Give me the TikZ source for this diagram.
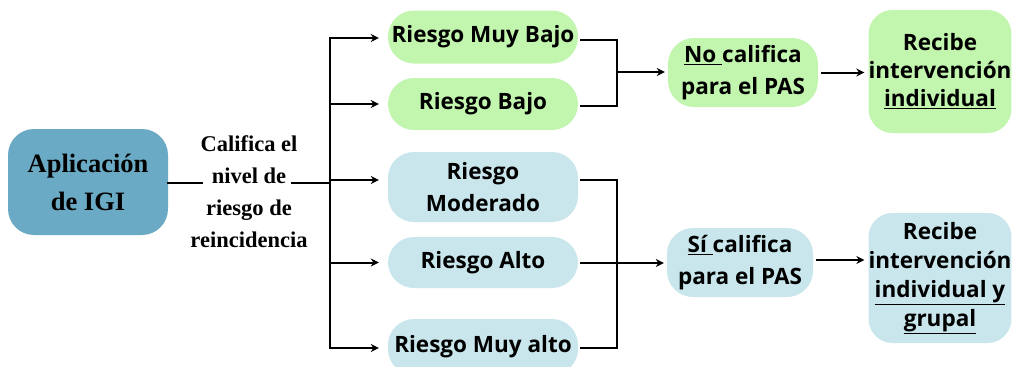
\documentclass[tikz,border=0pt]{standalone}
\usepackage{fontspec}
\setmainfont{Liberation Serif}
\setsansfont{Open Sans}
\usetikzlibrary{arrows.meta}
\definecolor{gfill}{HTML}{C2F5AE}
\definecolor{bfill}{HTML}{C8E6EB}
\definecolor{afill}{HTML}{6AAAC4}
\tikzset{
  ln/.style={line width=2pt, line cap=rect},
  arr/.style={line width=2pt, -{Stealth[length=8pt,width=8pt]}},
  sbox/.style={inner sep=0pt, align=center, font=\sffamily\bfseries\fontsize{22.5}{32}\selectfont},
  gbox/.style={sbox, fill=gfill},
  bbox/.style={sbox, fill=bfill},
  pill/.style={minimum width=190pt, minimum height=53pt, rounded corners=26pt},
}
\begin{document}
\begin{tikzpicture}[x=1pt,y=-1pt]
\useasboundingbox (0,0) rectangle (1013,367);
% left
\node[fill=afill, rounded corners=26pt, minimum width=160pt, minimum height=106pt, inner sep=0pt, align=center,
      font=\bfseries\fontsize{26.5}{38}\selectfont] (app) at (88,182) {Aplicación\\de IGI};
\node[align=center, inner sep=0pt, font=\bfseries\fontsize{22.5}{32}\selectfont] (cal) at (249,192)
  {Califica el\\nivel de\\riesgo de\\reincidencia};
% risk boxes
\node[gbox, pill] (mb) at (483,37) {Riesgo Muy Bajo};
\node[gbox, pill, minimum height=52pt] (b) at (483,104) {Riesgo Bajo};
\node[bbox, pill, minimum height=70pt] (mod) at (483,187) {Riesgo\\Moderado};
\node[bbox, pill, minimum height=51pt] (alto) at (483,262.5) {Riesgo Alto};
\node[bbox, pill, minimum height=56pt] (malto) at (483,347) {Riesgo Muy alto};
% bus
\coordinate (bt) at (330,38);
\coordinate (bb) at (330,348);
\coordinate (bm) at (330,183);
\draw[ln] (app.east |- bm) -- ++(34,0);
\draw[ln] (bm) -- ++(-38,0);
\draw[ln] (bt) -- (bb);
\draw[arr] (bt) -- ([xshift=-9pt]mb.west |- bt);
\draw[arr] (bt |- b.west) -- ([xshift=-9pt]b.west);
\draw[arr] (330,180) coordinate (cm) -- ([xshift=-9pt]mod.west |- cm);
\draw[arr] (bt |- alto.west) -- ([xshift=-9pt]alto.west);
\draw[arr] (bb) -- ([xshift=-9pt]malto.west |- bb);
% outcomes
\node[gbox, minimum width=150pt, minimum height=69pt, rounded corners=26pt] (no) at (743,72.5)
  {\underline{No\ }califica\\para el PAS};
\node[bbox, minimum width=146pt, minimum height=69pt, rounded corners=26pt] (si) at (740,262.5)
  {\underline{Sí\ }califica\\para el PAS};
\node[gbox, minimum width=142pt, minimum height=123pt, rounded corners=24pt,
      font=\sffamily\bfseries\fontsize{22.5}{28}\selectfont] (rg) at (940,71.5)
  {Recibe\\intervención\\\underline{individual}};
\node[bbox, minimum width=142pt, minimum height=130pt, rounded corners=24pt,
      font=\sffamily\bfseries\fontsize{22.5}{29}\selectfont] (rb) at (940,278)
  {Recibe\\intervención\\\underline{individual y}\\\underline{grupal}};
% joins
\coordinate (jg) at (617,72);
\draw[ln] ([xshift=3pt]mb.east |- 0,40) -| (617,106) -- ([xshift=3pt]b.east |- 0,106);
\draw[arr] (jg) -- ([xshift=-3pt]no.west |- jg);
\coordinate (jb) at (617,263);
\draw[ln] ([xshift=3pt]mod.east |- 0,180) -| (617,348) -- ([xshift=3pt]malto.east |- 0,348);
\draw[ln] ([xshift=3pt]alto.east |- jb) -- (jb);
\draw[arr] (jb) -- ([xshift=-3pt]si.west |- jb);
\draw[arr] ([xshift=3pt]no.east) -- ([xshift=-4pt]rg.west |- no.east);
\draw[arr] ([xshift=3pt]si.east |- 0,260) -- ([xshift=-4pt]rb.west |- 0,260);
\end{tikzpicture}
\end{document}
